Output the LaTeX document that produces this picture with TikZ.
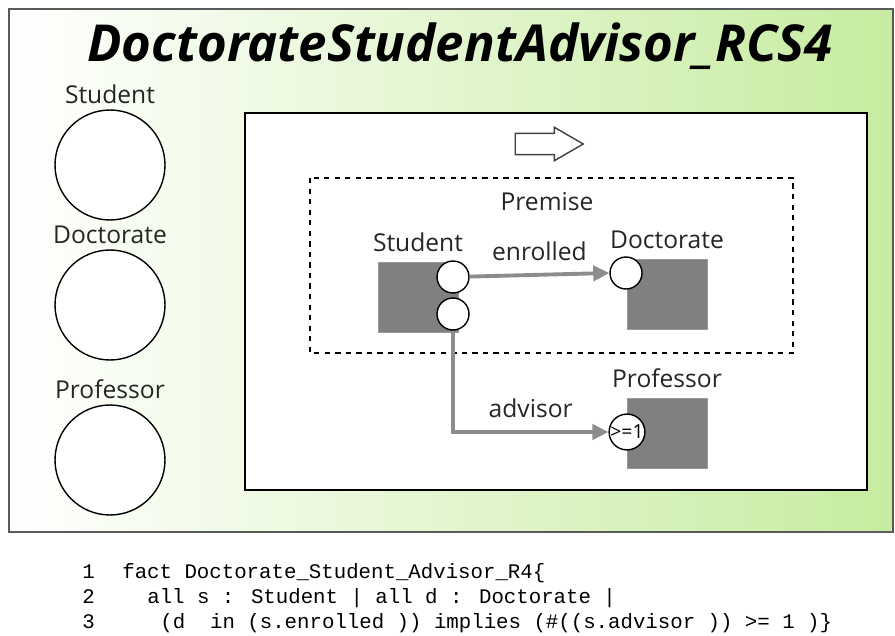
\documentclass[tikz,border=0pt]{standalone}
\usepackage{fontspec}
\setmainfont{Open Sans}
\newfontfamily\codefont{Liberation Mono}
\usetikzlibrary{positioning, arrows.meta, shapes.arrows}
\definecolor{framegray}{RGB}{90,90,90}
\definecolor{boxgray}{RGB}{128,128,128}
\definecolor{linkgray}{RGB}{140,140,140}
\definecolor{paleGreen}{RGB}{198,236,160}
\tikzset{
every node/.style = {inner sep = 0pt},
label/.style = {font = \fontsize{14}{16}\selectfont, text = black!85},
bigrole/.style = {circle, draw, thick, fill = white, minimum size = 2.2cm},
entity/.style = {rectangle, fill = boxgray, draw = boxgray!80, minimum width = 1.6cm,
   minimum height = 1.4cm},
port/.style = {circle, draw, thick, fill = white, minimum size = 0.64cm},
relation/.style = {-{Triangle[length = 3.2mm, width = 3mm]}, linkgray, line width = 2.2pt},
codeline/.style = {anchor = base west, font = \codefont\fontsize{11.8}{14}\selectfont}
}

\begin{document}
\begin{tikzpicture}[x = 0.02cm, y = -0.02cm]
\useasboundingbox (0,0) rectangle (895,635);

%% The outer frame
\shade [left color = white, right color = paleGreen, draw = framegray, line width = 1pt]
   (9,9) rectangle (893,532);
\node [font = \fontsize{29}{32}\selectfont\bfseries\itshape] (title) at (460,46)
   {DoctorateStudentAdvisor\_RCS4};

%% The roles on the left
\node [bigrole] (rs) at (110,165) {};
\node [bigrole] (rd) at (110,305) {};
\node [bigrole] (rp) at (110,460) {};
\node [label, above = 1mm of rs] {Student};
\node [label, above = 1mm of rd] {Doctorate};
\node [label, above = 1mm of rp] {Professor};

%% The rule
\draw [fill = white, line width = 0.8pt] (245,113) rectangle (867,490);
\node [single arrow, draw = black!75, thick, fill = white, inner sep = 0.2cm,
   minimum height = 1.36cm, single arrow head extend = 0.12cm,
   single arrow tip angle = 60] (implies) at (540,144) {};

%% Premise
\draw [dashed, thick] (310,178) rectangle (793,353);
\node [label] (premise) at (547,202) {Premise};

\node [entity] (student) at (418,297) {};
\node [entity] (doctorate) at (667,294) {};
\node [entity] (professor) at (667,433) {};
\node [label, above = 2mm of student] {Student};
\node [label, above = 2mm of doctorate] {Doctorate};
\node [label, above = 2mm of professor] {Professor};

\node [port] (s1) at (453,277) {};
\node [port] (s2) at (453,314) {};
\node [port] (d1) at (626,273) {};
\node [port, font = \fontsize{11}{12}\selectfont] (p1) at (627,432) {>=1};

%% Relations
\draw [relation] (s1) -- (d1.west) node [label, midway, above = 7pt] {enrolled};
\draw [relation] (s2.south) |- (p1.west) node [label, pos = 0.75, above = 7pt] {advisor};

%% Alloy fact
\node [codeline] (n1) at (82,578) {1};
\node [codeline] (n2) at (82,603) {2};
\node [codeline] (n3) at (82,628) {3};
\node [codeline] (c1) at (122,578) {fact Doctorate\_Student\_Advisor\_R4\{};
\node [codeline] (c2) at (147,603) {all s : Student | all d : Doctorate |};
\node [codeline] (c3) at (160,628) {(d\ \ in (s.enrolled )) implies (\#((s.advisor )) >= 1 )\}};

\end{tikzpicture}
\end{document}
